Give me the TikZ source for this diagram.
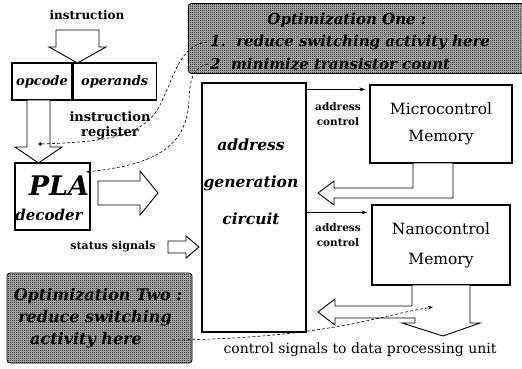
\documentclass[tikz,border=0pt]{standalone}
\usepackage{fontspec}
\setmainfont{DejaVu Serif}
\usepackage{tikz}
\usetikzlibrary{arrows.meta, patterns, positioning}
\pgfdeclarepatternformonly{finecheck}{\pgfqpoint{0pt}{0pt}}{\pgfqpoint{2pt}{2pt}}{\pgfqpoint{2pt}{2pt}}%
  {\pgfpathrectangle{\pgfqpoint{0pt}{0pt}}{\pgfqpoint{1pt}{1pt}}%
   \pgfpathrectangle{\pgfqpoint{1pt}{1pt}}{\pgfqpoint{1pt}{1pt}}\pgfusepath{fill}}
\tikzstyle{arrow}   = [line width=0.7pt, -{Stealth[length=6pt, width=4pt]}]
\tikzstyle{note}    = [densely dashed, line width=0.6pt]
\tikzstyle{box}     = [draw, line width=1.2pt, inner sep=0pt]
\tikzstyle{blk}     = [draw, line width=0.9pt, fill=white, line join=miter]
\tikzstyle{banner}  = [draw, line width=0.8pt, rounded corners=3pt, preaction={fill=gray!55}, pattern=finecheck, pattern color=black]
\tikzstyle{bantxt}  = [font=\bfseries\itshape\fontsize{15}{17}\selectfont, inner sep=0pt]
\tikzstyle{lbl}     = [font=\bfseries\fontsize{12}{15}\selectfont, inner sep=0pt]
\tikzstyle{memtxt}  = [font=\fontsize{15.5}{27}\selectfont]
\tikzset{every node/.style={align=center}}

\begin{document}
\begin{tikzpicture}[x=1pt, y=-1pt]
    \useasboundingbox (0,0) rectangle (522,368);

    % optimisation notes
    \node (optone) at (188,3) [banner, anchor=north west, minimum width=345pt, minimum height=70pt] {};
    \node (onetitle)  at (347,20) [bantxt] {Optimization One :};
    \node (onefirst)  at (210,42) [bantxt, anchor=west] {1.~~reduce switching activity here};
    \node (onesecond) at (210,64) [bantxt, anchor=west] {2~~minimize transistor count};

    \node (opttwo) at (99.5,318) [banner, minimum width=185pt, minimum height=90pt] {};
    \node (twotitle) at (98,296) [bantxt, font=\bfseries\itshape\fontsize{16}{17}\selectfont] {Optimization Two :};
    \node (tworeduce) at (95,318) [bantxt, font=\bfseries\itshape\fontsize{16}{17}\selectfont] {reduce switching};
    \node (twoact)    at (86,340) [bantxt, font=\bfseries\itshape\fontsize{16}{17}\selectfont] {activity here};

    % instruction register and decoder
    \node (instr) at (87,15) [lbl] {instruction};
    \node (opcode) at (42,81.5) [box, minimum width=60pt, minimum height=37pt, font=\bfseries\itshape\fontsize{13}{15}\selectfont] {opcode};
    \node (operands) [box, right=0pt of opcode, minimum width=83pt, minimum height=37pt, font=\bfseries\itshape\fontsize{13}{15}\selectfont] {operands};
    \node (irlabel) at (110,125.5) [lbl, font=\bfseries\fontsize{13}{15}\selectfont] {instruction\\register};
    \node (pla) at (52.5,196.5) [box, minimum width=75pt, minimum height=67pt] {};
    \node (platxt) at (59,186) [font=\bfseries\itshape\fontsize{27}{27}\selectfont, inner sep=0pt] {PLA};
    \node (dectxt) at (49,215) [font=\bfseries\itshape\fontsize{15}{15}\selectfont, inner sep=0pt] {decoder};
    \node (status) at (113,247) [lbl, font=\bfseries\fontsize{11}{13}\selectfont] {status signals};

    % address generation and control memories
    \node (agc) at (254,207.5) [box, minimum width=104pt, minimum height=249pt] {};
    \node (agctxt) at (251,182) [font=\bfseries\itshape\fontsize{15.5}{37}\selectfont] {address\\generation\\circuit};
    \node (micro) at (441,124) [box, memtxt, minimum width=142pt, minimum height=78pt] {Microcontrol\\Memory};
    \node (nano)  at (441,245) [box, memtxt, minimum width=138pt, minimum height=80pt, font=\fontsize{15.5}{30}\selectfont] {Nanocontrol\\Memory};
    \node (acone) at (338,114.5) [lbl, font=\bfseries\fontsize{10.5}{15}\selectfont] {address\\control};
    \node (actwo) at (338,235) [lbl, font=\bfseries\fontsize{10.5}{15}\selectfont] {address\\control};
    \node (ctrlout) at (360,350) [font=\fontsize{14}{16}\selectfont, inner sep=0pt] {control signals to data processing unit};

    \draw [arrow, shorten >=4pt] ([yshift=-5pt]agc.east |- micro.north) -- ([yshift=-5pt]micro.north west);
    \draw [arrow, shorten >=4pt] ([yshift=-8pt]agc.east |- nano.north) -- ([yshift=-8pt]nano.north west);

    % hollow arrows
    \draw [blk] (56,30) -- (99,30) -- (99,47) -- (106,47) -- (77.5,63) -- (49,47) -- (56,47) -- cycle;
    \draw [blk] (27,100) -- (50,100) -- (50,147) -- (62,147) -- (38.5,163) -- (15,147) -- (27,147) -- cycle;
    \draw [blk] (98,181) -- (140,181) -- (140,171) -- (158,193) -- (140,215) -- (140,205) -- (98,205) -- cycle;
    \draw [blk] (168,241) -- (186,241) -- (186,236) -- (199,247) -- (186,258) -- (186,253) -- (168,253) -- cycle;
    \draw [blk] (413,163) -- (413,188) -- (334,188) -- (334,181) -- (318,193) -- (334,205) -- (334,198)
                -- (453,198) -- (453,163) -- cycle;
    \draw [blk] (412,285) -- (412,306) -- (335,306) -- (335,299) -- (318,312) -- (335,325) -- (335,318)
                -- (415,318) -- (415,323) -- (402,323) -- (443,336) -- (480,323) -- (470,323) -- (470,285) -- cycle;

    % where the notes point
    \coordinate (irdot)   at (38.5,144);
    \coordinate (platip)  at (86,172);
    \coordinate (nanotip) at (433,307);
    \draw [note, -{Circle[length=3.5pt]}] ([xshift=-3pt]onefirst.west) .. controls (180,45) and (175,75) .. (160,105)
          .. controls (145,135) and (110,142) .. (irdot);
    \draw [note, -{Stealth[length=5pt, width=3.5pt]}] ([xshift=-2pt]onesecond.west) .. controls (192,68) and (190,80) .. (189,100)
          .. controls (187,150) and (150,165) .. (platip);
    \draw [note, -{Stealth[length=5pt, width=3.5pt]}] ([xshift=-20pt]opttwo.east |- twoact.east) .. controls (330,338) and (380,315) .. (nanotip);
\end{tikzpicture}
\end{document}
